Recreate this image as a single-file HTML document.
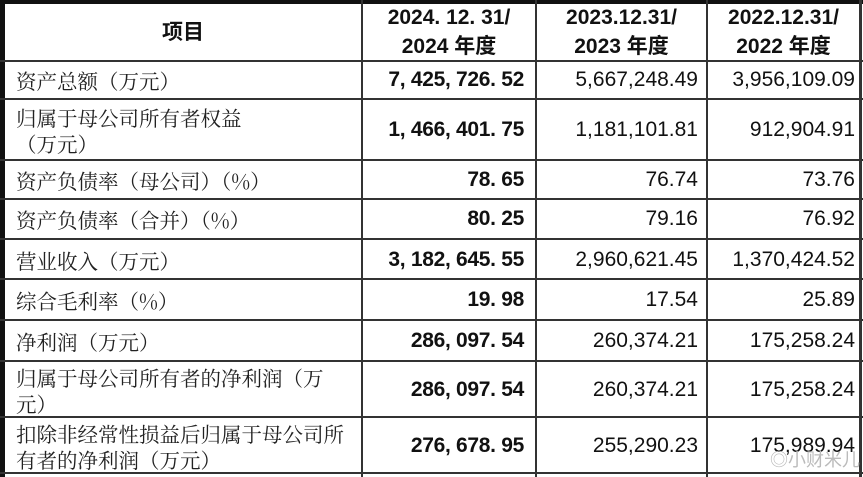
<!DOCTYPE html>
<html><head><meta charset="utf-8"><style>
body{margin:0;width:863px;height:477px;background:#fff;overflow:hidden;position:relative;font-family:"Liberation Sans","Noto Sans CJK SC",sans-serif;color:#111}
.h{position:absolute;background:#333}
.t{position:absolute;font-size:21px;line-height:24px;white-space:nowrap}
.l{font-family:"Noto Serif CJK SC","Noto Sans CJK SC",serif;left:16px;color:#222;font-size:20.5px}
.b{font-weight:bold;letter-spacing:-0.3px;right:339px;text-align:right;font-family:"Liberation Sans Narrow","Liberation Sans",sans-serif}
.c2{right:165px}
.c3{right:8px}
.hd{font-weight:bold;text-align:center;font-size:21px;line-height:29px}
</style></head><body>
<div class="h" style="left:0;top:0;width:863px;height:4px;background:#111"></div>
<div class="h" style="left:0;top:0;width:5px;height:477px;background:#111"></div>
<div class="h" style="left:859px;top:0;width:3px;height:477px"></div>
<div class="h" style="left:361px;top:0;width:2px;height:477px"></div>
<div class="h" style="left:535px;top:0;width:2px;height:477px"></div>
<div class="h" style="left:706px;top:0;width:2px;height:477px"></div>
<div class="h" style="left:0;top:60px;width:863px;height:2px"></div>
<div class="h" style="left:0;top:98px;width:863px;height:2px"></div>
<div class="h" style="left:0;top:159px;width:863px;height:2px"></div>
<div class="h" style="left:0;top:198px;width:863px;height:2px"></div>
<div class="h" style="left:0;top:238px;width:863px;height:2px"></div>
<div class="h" style="left:0;top:278px;width:863px;height:2px"></div>
<div class="h" style="left:0;top:319px;width:863px;height:2px"></div>
<div class="h" style="left:0;top:360px;width:863px;height:2px"></div>
<div class="h" style="left:0;top:416px;width:863px;height:2px"></div>
<div class="h" style="left:0;top:472px;width:863px;height:2px"></div>

<div class="t hd" style="left:5px;width:356px;top:18px">项目</div>
<div class="t hd" style="left:363px;width:172px;top:3px">2024. 12. 31/<br>2024 年度</div>
<div class="t hd" style="left:537px;width:169px;top:3px">2023.12.31/<br>2023 年度</div>
<div class="t hd" style="left:708px;width:151px;top:3px">2022.12.31/<br>2022 年度</div>

<div class="t l" style="top:68px">资产总额（万元）</div>
<div class="t b" style="top:68px">7, 425, 726. 52</div>
<div class="t c2" style="top:68px">5,667,248.49</div>
<div class="t c3" style="top:68px">3,956,109.09</div>

<div class="t l" style="top:104px;line-height:26px">归属于母公司所有者权益<br>（万元）</div>
<div class="t b" style="top:118px">1, 466, 401. 75</div>
<div class="t c2" style="top:118px">1,181,101.81</div>
<div class="t c3" style="top:118px">912,904.91</div>

<div class="t l" style="top:168px">资产负债率（母公司）（%）</div>
<div class="t b" style="top:168px">78. 65</div>
<div class="t c2" style="top:168px">76.74</div>
<div class="t c3" style="top:168px">73.76</div>

<div class="t l" style="top:207px">资产负债率（合并）（%）</div>
<div class="t b" style="top:207px">80. 25</div>
<div class="t c2" style="top:207px">79.16</div>
<div class="t c3" style="top:207px">76.92</div>

<div class="t l" style="top:248px">营业收入（万元）</div>
<div class="t b" style="top:248px">3, 182, 645. 55</div>
<div class="t c2" style="top:248px">2,960,621.45</div>
<div class="t c3" style="top:248px">1,370,424.52</div>

<div class="t l" style="top:288px">综合毛利率（%）</div>
<div class="t b" style="top:288px">19. 98</div>
<div class="t c2" style="top:288px">17.54</div>
<div class="t c3" style="top:288px">25.89</div>

<div class="t l" style="top:329px">净利润（万元）</div>
<div class="t b" style="top:329px">286, 097. 54</div>
<div class="t c2" style="top:329px">260,374.21</div>
<div class="t c3" style="top:329px">175,258.24</div>

<div class="t l" style="top:364px;line-height:26px">归属于母公司所有者的净利润（万<br>元）</div>
<div class="t b" style="top:378px">286, 097. 54</div>
<div class="t c2" style="top:378px">260,374.21</div>
<div class="t c3" style="top:378px">175,258.24</div>

<div class="t l" style="top:420px;line-height:26px">扣除非经常性损益后归属于母公司所<br>有者的净利润（万元）</div>
<div class="t b" style="top:434px">276, 678. 95</div>
<div class="t c2" style="top:434px">255,290.23</div>
<div class="t c3" style="top:434px">175,989.94</div>
<div class="t" style="left:770px;top:448px;color:#bbb;font-size:18px">◎小财米儿</div>
</body></html>
